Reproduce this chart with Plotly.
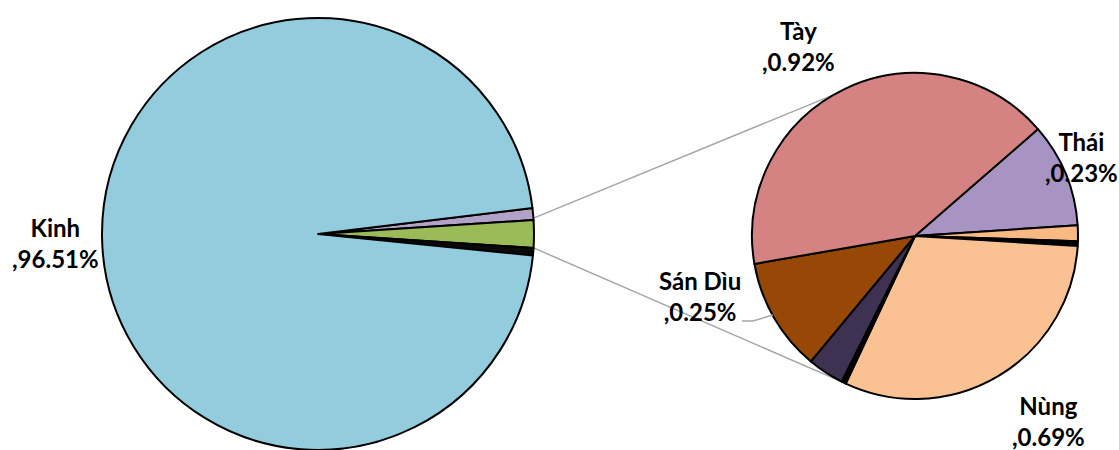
import math
import plotly.graph_objects as go

# Main pie: population share by ethnic group (%), listed clockwise
main_labels = ["Nhóm 1", "Dân tộc khác", "Nhóm 2", "Kinh"]
main_values = [0.90, 2.05, 0.56, 96.51]
main_colors = ["#B3A2C7", "#9BBB59", "#0A0A0A", "#93CDDD"]

# Secondary pie: breakdown of the "other" group (%), listed clockwise
sub_labels = ["Thái", "Nhóm 3", "Nhóm 4", "Nùng", "Nhóm 5", "Nhóm 6", "Sán Dìu", "Tày"]
sub_values = [0.23, 0.035, 0.01, 0.69, 0.01, 0.08, 0.25, 0.92]
sub_colors = ["#A794C2", "#F9B984", "#000000", "#FAC293", "#000000",
              "#3F3151", "#974706", "#D58282"]

# Labelled slices and where their captions sit (pixels)
label_names = ["Kinh", "Tày", "Thái", "Sán Dìu", "Nùng"]
label_pos = {"Kinh": (55, 243), "Tày": (798, 46), "Thái": (1081, 157),
             "Sán Dìu": (700, 296), "Nùng": (1048, 421)}

W, H = 1119, 450

# Pie geometry in pixels
main_cx, main_cy, main_r = 318, 234, 216
sub_cx, sub_cy, sub_r = 915, 236, 163


def px_to_paper(x, y):
    return x / W, 1 - y / H


def dom(cx, cy, r):
    x0, y1 = px_to_paper(cx - r, cy - r)
    x1, y0 = px_to_paper(cx + r, cy + r)
    return dict(x=[max(0, x0), min(1, x1)], y=[max(0, y0), min(1, y1)])


# rotate the main pie so the grouped slice is centred at 3 o'clock
total_main = sum(main_values)
group_start = 360 * main_values[0] / total_main
group_span = 360 * main_values[1] / total_main
main_rotation = 90 - (group_start + group_span / 2)

sub_rotation = 49

fig = go.Figure()

fig.add_trace(go.Pie(
    labels=main_labels, values=main_values, sort=False,
    direction="clockwise", rotation=main_rotation,
    marker=dict(colors=main_colors, line=dict(color="#000000", width=2)),
    textinfo="none", hoverinfo="label+value", showlegend=False,
    domain=dom(main_cx, main_cy, main_r),
))

fig.add_trace(go.Pie(
    labels=sub_labels, values=sub_values, sort=False,
    direction="clockwise", rotation=sub_rotation,
    marker=dict(colors=sub_colors, line=dict(color="#000000", width=2)),
    textinfo="none", hoverinfo="label+value", showlegend=False,
    domain=dom(sub_cx, sub_cy, sub_r),
))

# connector lines from the grouped slice to the secondary pie
half = math.radians(group_span / 2)
p_top = (main_cx + main_r * math.cos(half), main_cy - main_r * math.sin(half) - 2)
p_bot = (main_cx + main_r * math.cos(half), main_cy + main_r * math.sin(half))
a_top, a_bot = math.radians(120), math.radians(-115.5)
q_top = (sub_cx + sub_r * math.cos(a_top), sub_cy - sub_r * math.sin(a_top))
q_bot = (sub_cx + sub_r * math.cos(a_bot), sub_cy - sub_r * math.sin(a_bot))

shapes = []
for p, q in ((p_top, q_top), (p_bot, q_bot)):
    x0, y0 = px_to_paper(*p)
    x1, y1 = px_to_paper(*q)
    shapes.append(dict(type="line", xref="paper", yref="paper",
                       x0=x0, y0=y0, x1=x1, y1=y1,
                       line=dict(color="#A6A6A6", width=1.5), layer="below"))

# leader line for the Sán Dìu caption
pts = [px_to_paper(742, 321), px_to_paper(753, 321), px_to_paper(773, 315)]
path = "M {} {} L {} {} L {} {}".format(*[c for pt in pts for c in pt])
shapes.append(dict(type="path", xref="paper", yref="paper", path=path,
                   line=dict(color="#A6A6A6", width=1.5)))

value_of = dict(zip(main_labels, main_values))
value_of.update(dict(zip(sub_labels, sub_values)))

annotations = []
for name in label_names:
    x, y = px_to_paper(*label_pos[name])
    annotations.append(dict(
        x=x, y=y, xref="paper", yref="paper", showarrow=False,
        xanchor="center", yanchor="middle", align="center",
        text="<b>{}<br>,{:.2f}%</b>".format(name, value_of[name]),
        font=dict(family="Lato", size=24, color="#000000"),
    ))

fig.update_layout(
    width=W, height=H,
    margin=dict(l=0, r=0, t=0, b=0),
    paper_bgcolor="#FFFFFF", plot_bgcolor="#FFFFFF",
    shapes=shapes, annotations=annotations, showlegend=False,
)

fig.write_html("out.html")
